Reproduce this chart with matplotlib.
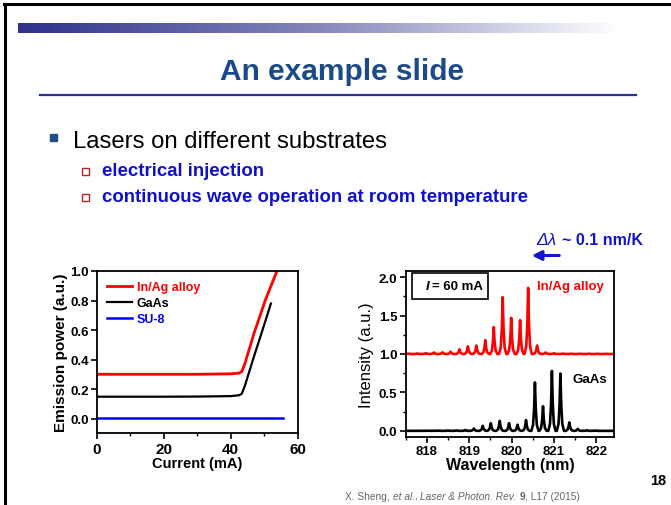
import numpy as np
import matplotlib
matplotlib.use("Agg")
import matplotlib.pyplot as plt
from matplotlib.lines import Line2D
from matplotlib.patches import Rectangle, FancyArrowPatch
from matplotlib.colors import LinearSegmentedColormap
from matplotlib.ticker import MultipleLocator

plt.rcParams['font.family'] = ['Liberation Sans', 'DejaVu Sans']

W, H = 671, 506          # slide size in pixels


def fx(x):
    return x / W


def fy(y):
    return 1 - y / H


# -----------------------------------------------------------------------
# data: L-I curves (left panel)
# -----------------------------------------------------------------------
inag_current = [0, 10, 20, 30, 40, 42.5, 43.3, 44.2, 47.0, 50.3, 53.8]
inag_power = [0.30, 0.30, 0.30, 0.30, 0.303, 0.308, 0.318, 0.37, 0.58, 0.80, 1.0]

gaas_current = [0, 10, 20, 30, 40, 42.5, 43.3, 44.2, 46.8, 49.5, 52.0]
gaas_power = [0.148, 0.148, 0.148, 0.149, 0.152, 0.158, 0.168, 0.22, 0.41, 0.60, 0.78]

su8_current = [0, 55.5]
su8_power = [0.003, 0.003]

# -----------------------------------------------------------------------
# data: lasing spectra at 60 mA (right panel), peak centre / height
# -----------------------------------------------------------------------
inag_peak_nm = [817.57, 817.78, 817.98, 818.17, 818.37, 818.56, 818.77, 818.97,
                819.17, 819.38, 819.58, 819.79, 819.99, 820.20, 820.39, 820.60,
                820.80, 821.00, 821.20, 821.41, 821.61, 821.82, 822.02, 822.23]
inag_peak_h = [0.005, 0.008, 0.012, 0.02, 0.022, 0.03, 0.06, 0.10,
               0.11, 0.18, 0.35, 0.74, 0.47, 0.44, 0.86, 0.11,
               0.02, 0.01, 0.006, 0.005, 0.004, 0.004, 0.003, 0.003]

gaas_peak_nm = [818.29, 818.50, 818.70, 818.91, 819.11, 819.32, 819.51, 819.72,
                819.94, 820.14, 820.34, 820.55, 820.74, 820.95, 821.15, 821.36,
                821.56, 821.77, 821.97]
gaas_peak_h = [0.003, 0.004, 0.006, 0.012, 0.03, 0.065, 0.10, 0.13,
               0.10, 0.08, 0.14, 0.63, 0.32, 0.78, 0.745, 0.11,
               0.025, 0.008, 0.004]

inag_base = 1.0
gaas_base = 0.0

# peak outline (offset in nm, fraction of peak height)
peak_dx = [-0.085, -0.045, -0.02, 0.0, 0.02, 0.045, 0.085]
peak_fr = [0.0, 0.12, 0.45, 1.0, 0.45, 0.12, 0.0]


def spectrum(centres, heights, base, lo, hi):
    xs, ys = [lo], [base]
    for c, h in zip(centres, heights):
        for dx, fr in zip(peak_dx, peak_fr):
            xs.append(c + dx)
            ys.append(base + fr * h)
    xs.append(hi)
    ys.append(base)
    return xs, ys


def text_run(fig, x0, y0, pieces, **kw):
    """Write text pieces one after another on a baseline (pixel coords)."""
    r = fig.canvas.get_renderer()
    x = x0
    for s, style in pieces:
        t = fig.text(fx(x), fy(y0), s, ha='left', va='baseline', **kw, **style)
        bb = t.get_window_extent(renderer=r)
        x += bb.width


fig = plt.figure(figsize=(W / 100, H / 100), dpi=100)
fig.patch.set_facecolor('white')

# -----------------------------------------------------------------------
# slide decoration
# -----------------------------------------------------------------------
fig.add_artist(Line2D([fx(5), fx(5)], [0, fy(5)], color='black', lw=2.2))
fig.add_artist(Line2D([fx(4), 1], [fy(5), fy(5)], color='black', lw=2.2))

bar = fig.add_axes([fx(18), fy(34), fx(620 - 18), 10 / H])
grad_cmap = LinearSegmentedColormap.from_list('bar', ['#2f318c', '#8587bb', '#ffffff'])
bar.imshow(np.linspace(0, 1, 256)[None, :], aspect='auto', cmap=grad_cmap)
bar.axis('off')

fig.text(fx(342), fy(80), 'An example slide', ha='center', va='baseline',
         fontsize=21.5, fontweight='bold', color='#1b4a8a')
fig.add_artist(Line2D([fx(40), fx(636)], [fy(96), fy(96)], color='#2e3192', lw=1.6))

fig.add_artist(Rectangle((fx(50), fy(142)), 7 / W, 7 / H, color='#1f4e8c',
                         transform=fig.transFigure))
fig.text(fx(73), fy(148), 'Lasers on different substrates', ha='left', va='baseline',
         fontsize=17.2, color='black')

for yb, txt in [(176, 'electrical injection'),
                (201.5, 'continuous wave operation at room temperature')]:
    fig.add_artist(Rectangle((fx(82), fy(yb)), 7 / W, 7 / H, fill=False,
                             edgecolor='#b52525', lw=1.0, transform=fig.transFigure))
    fig.text(fx(102), fy(yb), txt, ha='left', va='baseline', fontsize=13.4,
             fontweight='bold', color='#1010cc')

# -----------------------------------------------------------------------
# left panel: emission power vs current
# -----------------------------------------------------------------------
ax1 = fig.add_axes([fx(96.7), fy(434.3), fx(297.7 - 96.7), (434.3 - 272) / H])
ax1.plot(inag_current, inag_power, color='#ff0000', lw=2.0, label='In/Ag alloy')
ax1.plot(gaas_current, gaas_power, color='black', lw=1.6, label='GaAs')
ax1.plot(su8_current, su8_power, color='#0000ff', lw=1.8, label='SU-8')
ax1.set_xlim(0, 60)
ax1.set_ylim(-0.1, 1.0)
ax1.set_xticks([0, 20, 40, 60])
ax1.xaxis.set_minor_locator(MultipleLocator(10))
ax1.set_yticks([0.0, 0.2, 0.4, 0.6, 0.8, 1.0])
ax1.set_yticklabels(['0.0', '0.2', '0.4', '0.6', '0.8', '1.0'])
ax1.tick_params(axis='x', which='major', labelsize=11, length=4, width=1.2, direction='out', pad=2.5)
ax1.tick_params(axis='x', which='minor', length=2.5, width=1.0, direction='out')
ax1.tick_params(axis='y', which='major', labelsize=9.5, length=4, width=1.2, direction='out', pad=1.5)
for lab in ax1.get_xticklabels() + ax1.get_yticklabels():
    lab.set_fontweight('bold')
ax1.set_xlabel('Current (mA)', fontsize=10.5, fontweight='bold', labelpad=-0.5)
ax1.set_ylabel('Emission power (a.u.)', fontsize=11, fontweight='bold', labelpad=2)
for s in ax1.spines.values():
    s.set_linewidth(1.3)
leg = ax1.legend(loc='upper left', bbox_to_anchor=(0.0, 1.0), frameon=False,
                 fontsize=9, handlelength=2.0, handletextpad=0.4, labelspacing=0.33,
                 borderaxespad=0.4, labelcolor='linecolor')
for t in leg.get_texts():
    t.set_fontweight('bold')

# -----------------------------------------------------------------------
# right panel: spectra
# -----------------------------------------------------------------------
ax2 = fig.add_axes([fx(405.5), fy(438), fx(614.3 - 405.5), (438 - 272) / H])
x_lo, x_hi = 817.5, 822.42
gx, gy = spectrum(gaas_peak_nm, gaas_peak_h, gaas_base, x_lo, x_hi)
rx, ry = spectrum(inag_peak_nm, inag_peak_h, inag_base, x_lo, x_hi)
ax2.plot(gx, gy, color='black', lw=1.9)
ax2.plot(rx, ry, color='#ff0000', lw=1.9)
ax2.set_xlim(x_lo, x_hi)
ax2.set_ylim(-0.08, 2.08)
ax2.set_xticks([818, 819, 820, 821, 822])
ax2.xaxis.set_minor_locator(MultipleLocator(0.5))
ax2.set_yticks([0.0, 0.5, 1.0, 1.5, 2.0])
ax2.yaxis.set_minor_locator(MultipleLocator(0.25))
ax2.tick_params(which='major', labelsize=9.5, length=4, width=1.2, direction='out', pad=2)
ax2.tick_params(which='minor', length=2.5, width=1.0, direction='out')
for lab in ax2.get_xticklabels() + ax2.get_yticklabels():
    lab.set_fontweight('bold')
ax2.set_xlabel('Wavelength (nm)', fontsize=11.5, fontweight='bold', labelpad=0)
ax2.set_ylabel('Intensity (a.u.)', fontsize=12, labelpad=3)
for s in ax2.spines.values():
    s.set_linewidth(1.3)

ax2.add_patch(Rectangle((0.03, 0.83), 0.366, 0.16, transform=ax2.transAxes,
                        fill=False, edgecolor='black', lw=1.2))
ax2.text(0.095, 0.91, 'I', transform=ax2.transAxes, ha='left', va='center',
         fontsize=9.5, fontweight='bold', fontstyle='italic')
ax2.text(0.127, 0.91, '= 60 mA', transform=ax2.transAxes, ha='left', va='center',
         fontsize=9.5, fontweight='bold')
ax2.text(0.63, 0.91, 'In/Ag alloy', transform=ax2.transAxes, ha='left', va='center',
         fontsize=9.5, fontweight='bold', color='#ff0000')
ax2.text(0.80, 0.35, 'GaAs', transform=ax2.transAxes, ha='left', va='center',
         fontsize=9.5, fontweight='bold', color='black')

# -----------------------------------------------------------------------
# wavelength shift note, citation, page number
# -----------------------------------------------------------------------
fig.text(fx(536.5), fy(245), '\u0394\u03bb', ha='left', va='baseline', fontsize=12.5,
         fontstyle='italic', color='#1414cc')
fig.text(fx(561.5), fy(245), '~ 0.1 nm/K', ha='left', va='baseline', fontsize=11.5,
         fontweight='bold', color='#1414cc')
fig.add_artist(FancyArrowPatch(
    (fx(562), fy(256.5)), (fx(529), fy(256.5)), transform=fig.transFigure,
    arrowstyle='-|>', mutation_scale=14, color='#1414cc', lw=2.2))

text_run(fig, 345, 500,
         [('X. Sheng, ', {}), ('et al.', {'fontstyle': 'italic'}), (', ', {}),
          ('Laser & Photon. Rev.', {'fontstyle': 'italic'}), (' ', {}),
          ('9', {'fontweight': 'bold'}), (', L17 (2015)', {})],
         fontsize=7.3, color='#666666')
fig.text(fx(650), fy(485), '18', ha='left', va='baseline', fontsize=10.5,
         fontweight='bold', color='black')

fig.savefig('out.png', dpi=100)
